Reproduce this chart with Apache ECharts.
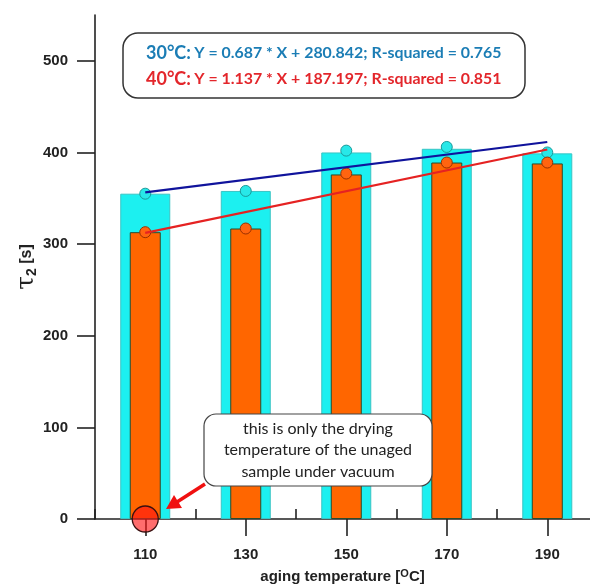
<!DOCTYPE html>
<html>
<head>
<meta charset="utf-8">
<script src="https://cdn.jsdelivr.net/npm/echarts@6/dist/echarts.min.js"></script>
<style>html,body{margin:0;padding:0;background:#fff;}#c{width:590px;height:586px;}</style>
</head>
<body>
<div id="c"></div>
<script>
// ---- data ----
const temps = [110, 130, 150, 170, 190];
const tau30Bars = [355, 358, 400, 404, 399];
const tau30Points = [355, 358, 402, 406, 400];
const tau40Bars = [313, 317, 376, 389, 388];
const tau40Points = [313, 317, 377, 389, 389];
const fitX = [110, 190];
const fit30 = [356.4, 411.4];
const fit40 = [312.3, 403.2];
const dryingX = [110];
const dryingY = [0];
const xMajorTicks = [110, 130, 150, 170, 190];
const xMinorTicks = [100, 120, 140, 160, 180];
const yMajorTicks = [0, 100, 200, 300, 400, 500];
const yMinorTicks = [50, 150, 250, 350, 450, 550];
const legend30 = ['30°C:', 'Y = 0.687 * X + 280.842; R-squared = 0.765'];
const legend40 = ['40°C:', 'Y = 1.137 * X + 187.197; R-squared = 0.851'];
const noteLines = ['this is only the drying', 'temperature of the unaged', 'sample under vacuum'];

const zip = (xs, ys) => xs.map((x, i) => [x, ys[i]]);

const axisCol = '#222';
const tickFont = { fontFamily: 'Liberation Sans, Arial', fontWeight: 'bold', fontSize: 15, color: '#222' };

const chart = echarts.init(document.getElementById('c'), null, { renderer: 'canvas' });

const option = {
  animation: false,
  backgroundColor: '#fff',
  grid: { left: 95, right: 0, top: 15, bottom: 67, containLabel: false, outerBoundsMode: 'none' },
  xAxis: [
    {
      type: 'value', min: 100, max: 198.5, interval: 10,
      axisLine: { show: true, onZero: false, lineStyle: { color: axisCol, width: 1.6 } },
      axisTick: { show: true, length: 17, customValues: xMajorTicks, lineStyle: { color: axisCol, width: 1.6 } },
      axisLabel: { show: true, customValues: xMajorTicks, margin: 28, ...tickFont },
      splitLine: { show: false },
      name: 'aging temperature [{sup|O}C]',
      nameLocation: 'middle', nameGap: 49, nameMoveOverlap: false,
      nameTextStyle: {
        fontFamily: 'Liberation Sans, Arial', fontWeight: 'bold', fontSize: 15, color: '#222',
        rich: { sup: { fontFamily: 'Liberation Sans, Arial', fontWeight: 'bold', fontSize: 11, color: '#222', verticalAlign: 'top', padding: [0, 0, 6, 0] } }
      }
    },
    {
      type: 'value', min: 100, max: 198.5, interval: 10,
      axisLine: { show: false },
      axisTick: { show: true, length: 10, customValues: xMinorTicks, lineStyle: { color: axisCol, width: 1.6 } },
      axisLabel: { show: false },
      splitLine: { show: false }
    }
  ],
  yAxis: [
    {
      type: 'value', min: 0, max: 550, interval: 50,
      axisLine: { show: true, lineStyle: { color: axisCol, width: 1.6 } },
      axisTick: { show: true, length: 18, customValues: yMajorTicks, lineStyle: { color: axisCol, width: 1.6 } },
      axisLabel: { show: true, customValues: yMajorTicks, margin: 27, ...tickFont },
      splitLine: { show: false },
      name: '{t|τ}{s|2}{b| [s]}',
      nameLocation: 'middle', nameGap: 56, nameRotate: 90, nameMoveOverlap: false,
      nameTextStyle: {
        rich: {
          t: { fontFamily: 'DejaVu Serif', fontSize: 25, color: '#222' },
          s: { fontFamily: 'Liberation Sans, Arial', fontWeight: 'bold', fontSize: 14, color: '#222', verticalAlign: 'bottom' },
          b: { fontFamily: 'Liberation Sans, Arial', fontWeight: 'bold', fontSize: 16, color: '#222' }
        }
      }
    },
    {
      type: 'value', min: 0, max: 550, interval: 50,
      axisLine: { show: false },
      axisTick: { show: true, length: 9, customValues: yMinorTicks, lineStyle: { color: axisCol, width: 1.6 } },
      axisLabel: { show: false },
      splitLine: { show: false }
    }
  ],
  series: [
    {
      name: '30°C bars', type: 'bar', xAxisIndex: 0, yAxisIndex: 0,
      data: zip(temps, tau30Bars), barWidth: 50, z: 1,
      itemStyle: { color: '#1cf0f0', borderColor: '#39c4c4', borderWidth: 1 }
    },
    {
      name: '40°C bars', type: 'bar', xAxisIndex: 1, yAxisIndex: 0,
      data: zip(temps, tau40Bars), barWidth: 31, z: 2,
      itemStyle: { color: '#ff6600', borderColor: '#2c4a2c', borderWidth: 1 }
    },
    {
      name: '30°C points', type: 'scatter', xAxisIndex: 0, yAxisIndex: 0,
      data: zip(temps, tau30Points), symbolSize: 11, z: 3, clip: false,
      itemStyle: { color: '#28e8e8', borderColor: '#1a9a9a', borderWidth: 1, opacity: 1 }
    },
    {
      name: '40°C points', type: 'scatter', xAxisIndex: 0, yAxisIndex: 0,
      data: zip(temps, tau40Points), symbolSize: 11, z: 3, clip: false,
      itemStyle: { color: '#ff6410', borderColor: '#9a3000', borderWidth: 1, opacity: 1 }
    },
    {
      name: '30°C fit', type: 'line', xAxisIndex: 0, yAxisIndex: 0,
      data: zip(fitX, fit30), symbol: 'none', z: 4,
      lineStyle: { color: '#10139c', width: 2.2 }
    },
    {
      name: '40°C fit', type: 'line', xAxisIndex: 0, yAxisIndex: 0,
      data: zip(fitX, fit40), symbol: 'none', z: 4,
      lineStyle: { color: '#e52222', width: 2.2 }
    },
    {
      name: 'drying', type: 'scatter', xAxisIndex: 0, yAxisIndex: 0,
      data: zip(dryingX, dryingY), symbolSize: 26, z: 6, clip: false,
      itemStyle: { color: 'rgba(255,20,20,0.62)', borderColor: '#3a1010', borderWidth: 1.3, opacity: 1 }
    }
  ],
  graphic: [
    {
      type: 'rect', z: 10,
      shape: { x: 123, y: 33, width: 402, height: 65, r: 15 },
      style: { fill: '#fff', stroke: '#333', lineWidth: 1.5 }
    },
    {
      type: 'text', z: 11, left: 146, top: 44,
      style: {
        rich: {
          h: { fontFamily: 'Lato', fontWeight: 'bold', fontSize: 18, fill: '#1b7db5' },
          r: { fontFamily: 'Lato', fontWeight: 'bold', fontSize: 15.9, fill: '#1b7db5' }
        },
        text: '{h|' + legend30[0] + '} {r|' + legend30[1] + '}'
      }
    },
    {
      type: 'text', z: 11, left: 146, top: 70,
      style: {
        rich: {
          h: { fontFamily: 'Lato', fontWeight: 'bold', fontSize: 18, fill: '#e3262b' },
          r: { fontFamily: 'Lato', fontWeight: 'bold', fontSize: 15.9, fill: '#e3262b' }
        },
        text: '{h|' + legend40[0] + '} {r|' + legend40[1] + '}'
      }
    },
    {
      type: 'rect', z: 10,
      shape: { x: 204, y: 414, width: 228, height: 72, r: 12 },
      style: { fill: '#fff', stroke: '#444', lineWidth: 1.2 }
    },
    {
      type: 'text', z: 11,
      style: {
        x: 318, y: 450, text: noteLines.join('\n'),
        align: 'center', verticalAlign: 'middle',
        fontFamily: 'Lato', fontSize: 16, lineHeight: 21.5, fill: '#222'
      }
    },
    {
      type: 'polyline', z: 12,
      shape: { points: [[205, 484], [177, 502]] },
      style: { stroke: '#f01010', lineWidth: 3.5 }
    },
    {
      type: 'polygon', z: 12,
      shape: { points: [[166, 509], [182, 508], [174, 495]] },
      style: { fill: '#f01010' }
    }
  ]
};
chart.setOption(option);
</script>
</body>
</html>
